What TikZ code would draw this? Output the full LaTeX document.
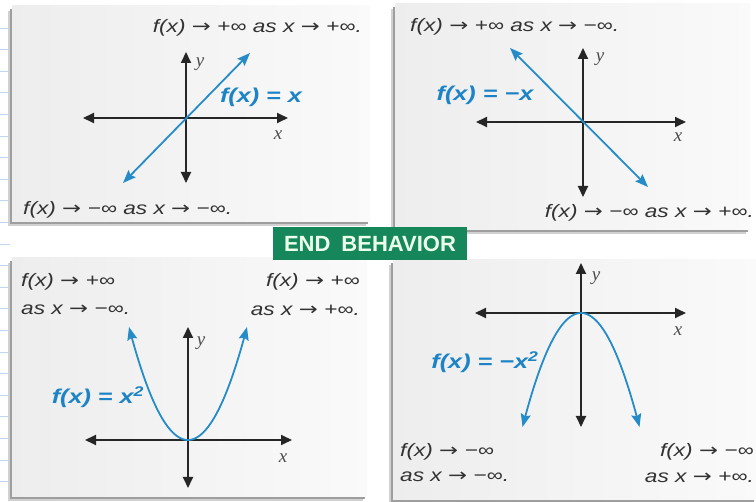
\documentclass[tikz,border=0pt]{standalone}
\usepackage{fontspec}
\usepackage{graphicx}
\newfontfamily\lblfont{Liberation Sans}
\newfontfamily\axfont{Liberation Serif}
\newfontfamily\arfont{DejaVu Sans}
\usetikzlibrary{arrows.meta}
\definecolor{fblue}{RGB}{38,140,200}
\definecolor{lblblue}{RGB}{28,132,198}
\definecolor{ebgreen}{RGB}{22,135,90}
\definecolor{txtgray}{RGB}{50,50,50}
\definecolor{ruleblue}{RGB}{190,215,240}
\newcommand\wide[1]{\scalebox{1.26}[1]{#1}}
\newcommand\ra{{\arfont\upshape →}}
\newcommand\pnl[4]{%
  \fill[black!18] (#1-4,#2+5) rectangle (#3-4,#4+4);
  \fill[black!38] (#1-2,#2+3) rectangle (#3-2,#4+2);
  \shade[left color=black!7,right color=black!2] (#1,#2) rectangle (#3,#4);}
\tikzset{
  axis/.style={line width=1.8pt, black!85, {Triangle[length=11pt,width=10pt]}-{Triangle[length=11pt,width=10pt]}},
  fcurve/.style={line width=1.8pt, fblue, {Stealth[length=13pt,width=10pt,inset=2pt]}-{Stealth[length=13pt,width=10pt,inset=2pt]}},
  lim/.style={font=\lblfont\itshape\fontsize{18}{21}\selectfont, text=txtgray, inner sep=0pt},
  fn/.style={font=\lblfont\bfseries\itshape\fontsize{20}{22}\selectfont, text=lblblue, inner sep=0pt},
  axl/.style={font=\axfont\itshape\fontsize{19}{20}\selectfont, text=black!70, inner sep=0pt},
}
\begin{document}
\begin{tikzpicture}[x=1pt,y=-1pt]
\useasboundingbox (0,0) rectangle (756,502);
\fill[white] (0,0) rectangle (756,502);
% ruled lines at the left edge
\foreach \k in {0,...,21} {\draw[ruleblue, line width=0.8pt] (0,{28+21.6*\k}) -- (10,{28+21.6*\k});}
% panels
\pnl{12}{6}{370}{222}
\pnl{395}{4}{750}{230}
\pnl{12}{258}{367}{497}
\pnl{393}{260}{756}{500}

% ---------- panel 1: f(x)=x
\coordinate (a1l) at (83,118); \coordinate (a1r) at (288,118);
\coordinate (a1t) at (186,52);  \coordinate (a1b) at (186,183);
\draw[axis] (a1l) -- (a1r);
\draw[axis] (a1b) -- (a1t);
\node[axl] (y1) at (200,64) {y};
\node[axl] (x1) at (278,135) {x};
\coordinate (c1a) at (123,183); \coordinate (c1b) at (250,53);
\draw[fcurve] (c1a) -- (c1b);
\node[fn] (f1) at (261,97) {\wide{f(x) = x}};
\node[lim,anchor=east] (t1) at (362,28) {\wide{f(x) \ra\ +∞ as x \ra\ +∞.}};
\node[lim,anchor=west] (b1) at (23,210) {\wide{f(x) \ra\ −∞ as x \ra\ −∞.}};

% ---------- panel 2: f(x)=-x
\coordinate (a2l) at (476,122); \coordinate (a2r) at (686,122);
\coordinate (a2t) at (583,48);  \coordinate (a2b) at (583,197);
\draw[axis] (a2l) -- (a2r);
\draw[axis] (a2b) -- (a2t);
\node[axl] (y2) at (600,59) {y};
\node[axl] (x2) at (678,137) {x};
\coordinate (c2a) at (510,48); \coordinate (c2b) at (648,187);
\draw[fcurve] (c2a) -- (c2b);
\node[fn] (f2) at (485,95) {\wide{f(x) = −x}};
\node[lim,anchor=west] (t2) at (410,27) {\wide{f(x) \ra\ +∞ as x \ra\ −∞.}};
\node[lim,anchor=east] (b2) at (754,213) {\wide{f(x) \ra\ −∞ as x \ra\ +∞.}};

% ---------- panel 3: f(x)=x^2
\coordinate (a3l) at (85,440); \coordinate (a3r) at (292,440);
\coordinate (a3t) at (188,327); \coordinate (a3b) at (188,488);
\draw[axis] (a3l) -- (a3r);
\draw[axis] (a3b) -- (a3t);
\node[axl] (y3) at (201,343) {y};
\node[axl] (x3) at (283,458) {x};
\draw[fcurve] plot[domain=-59:59, samples=80, smooth] ({188+\x},{440-0.03246*\x*\x});
\node[fn] (f3) at (98,397) {\wide{f(x) = x\textsuperscript{2}}};
\node[lim,anchor=west] (t3a) at (21,282) {\wide{f(x) \ra\ +∞}};
\node[lim,anchor=west] (t3b) at (21,310) {\wide{as x \ra\ −∞.}};
\node[lim,anchor=east] (t3c) at (360,282) {\wide{f(x) \ra\ +∞}};
\node[lim,anchor=east] (t3d) at (360,310) {\wide{as x \ra\ +∞.}};

% ---------- panel 4: f(x)=-x^2
\coordinate (a4l) at (475,313); \coordinate (a4r) at (686,313);
\coordinate (a4t) at (581,263); \coordinate (a4b) at (581,427);
\draw[axis] (a4l) -- (a4r);
\draw[axis] (a4b) -- (a4t);
\node[axl] (y4) at (596,278) {y};
\node[axl] (x4) at (678,331) {x};
\draw[fcurve] plot[domain=-58.5:58.5, samples=80, smooth] ({581+\x},{313+0.0333*\x*\x});
\node[fn] (f4) at (485,362) {\wide{f(x) = −x\textsuperscript{2}}};
\node[lim,anchor=west] (t4a) at (400,452) {\wide{f(x) \ra\ −∞}};
\node[lim,anchor=west] (t4b) at (400,477) {\wide{as x \ra\ −∞.}};
\node[lim,anchor=east] (t4c) at (754,452) {\wide{f(x) \ra\ −∞}};
\node[lim,anchor=east] (t4d) at (754,477) {\wide{as x \ra\ +∞.}};

% ---------- title tag
\node[fill=ebgreen, text=white!92!green, font=\lblfont\bfseries\fontsize{22}{24}\selectfont,
      minimum width=194pt, minimum height=33pt, inner sep=0pt] (eb) at (370,243.5) {END\hspace{0.5em}BEHAVIOR};
\end{tikzpicture}
\end{document}
